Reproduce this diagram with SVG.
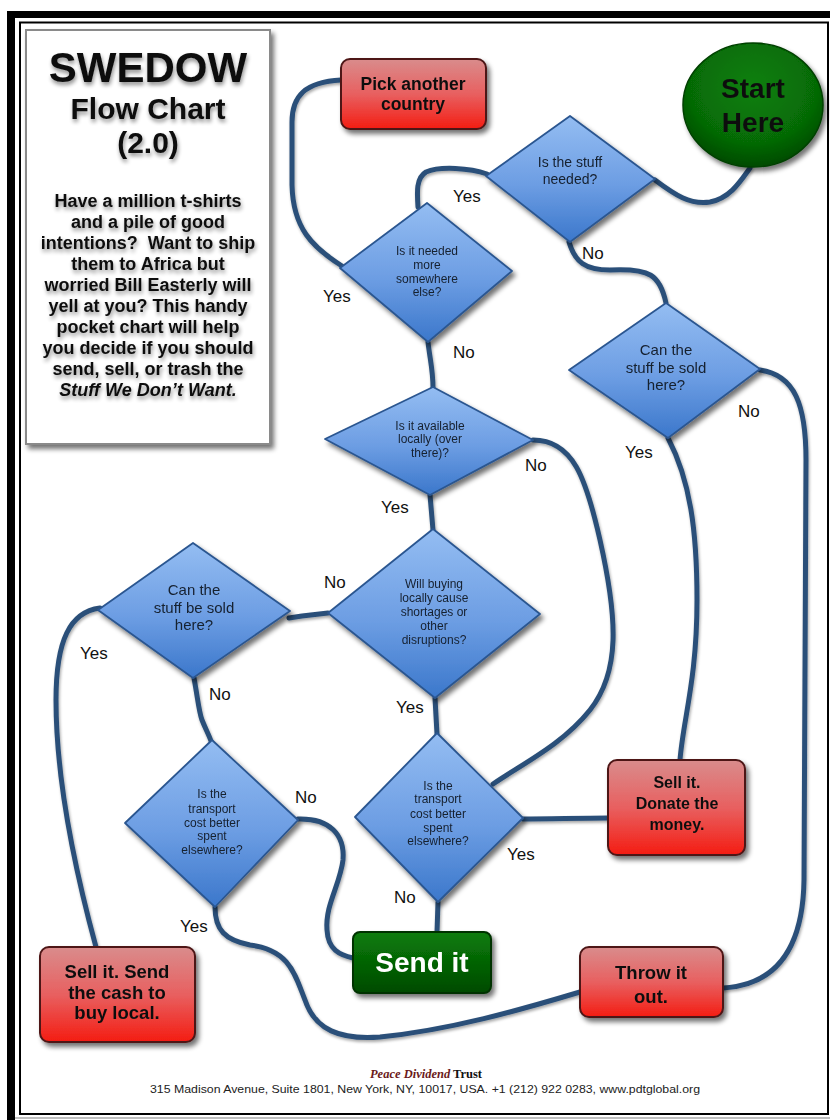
<svg xmlns="http://www.w3.org/2000/svg" width="830" height="1120" viewBox="0 0 830 1120">
<defs>
<linearGradient id="gDia" x1="0" y1="0" x2="0" y2="1">
<stop offset="0" stop-color="#94bdf2"/>
<stop offset="0.55" stop-color="#6c9de3"/>
<stop offset="1" stop-color="#3b77cb"/>
</linearGradient>
<linearGradient id="gRed" x1="0" y1="0" x2="0" y2="1">
<stop offset="0" stop-color="#d98c8c"/>
<stop offset="0.5" stop-color="#e86060"/>
<stop offset="1" stop-color="#f41c12"/>
</linearGradient>
<linearGradient id="gGreen" x1="0" y1="0" x2="0" y2="1">
<stop offset="0" stop-color="#0a7d0a"/>
<stop offset="1" stop-color="#004a00"/>
</linearGradient>
<radialGradient id="gStart" cx="0.5" cy="0.35" r="0.65">
<stop offset="0" stop-color="#0b800b"/>
<stop offset="0.7" stop-color="#066a06"/>
<stop offset="1" stop-color="#024a02"/>
</radialGradient>
<filter id="shadow" x="-20%" y="-20%" width="150%" height="150%">
<feGaussianBlur in="SourceAlpha" stdDeviation="2.5"/>
<feOffset dx="3" dy="4" result="b"/>
<feComponentTransfer><feFuncA type="linear" slope="0.55"/></feComponentTransfer>
<feMerge><feMergeNode/><feMergeNode in="SourceGraphic"/></feMerge>
</filter>
<filter id="lshadow" x="-10%" y="-10%" width="130%" height="130%">
<feGaussianBlur in="SourceAlpha" stdDeviation="1.5"/>
<feOffset dx="1" dy="2" result="b"/>
<feComponentTransfer><feFuncA type="linear" slope="0.35"/></feComponentTransfer>
<feMerge><feMergeNode/><feMergeNode in="SourceGraphic"/></feMerge>
</filter>
<filter id="tshadow" x="-10%" y="-30%" width="130%" height="170%">
<feGaussianBlur in="SourceAlpha" stdDeviation="2"/>
<feOffset dx="1" dy="3" result="b"/>
<feComponentTransfer><feFuncA type="linear" slope="0.45"/></feComponentTransfer>
<feMerge><feMergeNode/><feMergeNode in="SourceGraphic"/></feMerge>
</filter>
<style>
.dia{fill:url(#gDia);stroke:#2b5690;stroke-width:1.8;stroke-linejoin:round}
.red{fill:url(#gRed);stroke:#4e1616;stroke-width:2}
.grn{fill:url(#gGreen);stroke:#003300;stroke-width:2}
.con{fill:none;stroke:#2c5079;stroke-width:5;stroke-linecap:round;stroke-linejoin:round}
text{font-family:"Liberation Sans",Arial,sans-serif;text-anchor:middle}
.dt{font-size:12px;fill:#16202f}
.dtl{font-size:15px;fill:#16202f}
.bt{font-weight:bold;fill:#111}
.lbl{font-size:17px;fill:#111;text-anchor:start}
</style>
</defs>
<rect x="0" y="0" width="830" height="1120" fill="#fff"/>
<g id="frame">
<rect x="7" y="11" width="823" height="7" fill="#000"/>
<rect x="7" y="11" width="8" height="1109" fill="#000"/>
<rect x="20" y="22.5" width="808" height="1091.5" fill="none" stroke="#000" stroke-width="2"/>
<line x1="15" y1="1118" x2="830" y2="1118" stroke="#aaa" stroke-width="1.5"/>
</g>
<g id="connectors" filter="url(#lshadow)">
<path class="con" d="M655,180 C675,195 690,205 710,202 C730,198 740,182 750,168"/>
<path class="con" d="M487,174 C470,168 440,166 426,172 C416,178 417,192 418,207"/>
<path class="con" d="M342,266 C312,247 293,228 292,185 L292,122 C292,96 305,82 341,80"/>
<path class="con" d="M428,342 C430,360 433,370 433,388"/>
<path class="con" d="M533,440 C573,440 586,478 600,540 C618,620 620,672 590,710 C562,745 522,764 493,784"/>
<path class="con" d="M430,495 L433,530"/>
<path class="con" d="M289,618 L302,616 L328,613"/>
<path class="con" d="M435,698 L437,734"/>
<path class="con" d="M100,608 C70,612 56,640 56,700 C56,780 75,870 96,947"/>
<path class="con" d="M194,678 C198,700 199,712 202,720 C206,730 209,735 211,741"/>
<path class="con" d="M298,819 C330,818 345,835 343,860 C340,885 325,905 327,930 C328,950 340,955 353,958"/>
<path class="con" d="M215,907 C215,930 225,940 250,945 C290,950 295,975 305,1000 C315,1030 340,1040 380,1037 C450,1030 520,1010 580,992"/>
<path class="con" d="M438,902 L437,932"/>
<path class="con" d="M523,819 C550,819 580,818 608,818"/>
<path class="con" d="M668,438 C690,480 697,530 697,600 C697,680 683,720 680,760"/>
<path class="con" d="M760,370 C795,375 806,405 806,460 L804,880 C803,950 775,985 723,988"/>
<path class="con" d="M569,242 C575,262 585,270 610,270 C650,268 660,275 666,303"/>
</g>
<g id="title">
<rect x="26" y="30" width="244" height="414" fill="#fff" stroke="#8a8a8a" stroke-width="2" filter="url(#shadow)"/>
<g filter="url(#tshadow)">
<text x="148" y="82" class="bt" style="font-size:42px">SWEDOW</text>
<text x="148" y="119" class="bt" style="font-size:30px">Flow Chart</text>
<text x="148" y="153" class="bt" style="font-size:30px">(2.0)</text>
<g class="bt" style="font-size:18px">
<text x="148" y="207">Have a million t-shirts</text>
<text x="148" y="228">and a pile of good</text>
<text x="148" y="249">intentions?&#160; Want to ship</text>
<text x="148" y="270">them to Africa but</text>
<text x="148" y="291">worried Bill Easterly will</text>
<text x="148" y="312">yell at you? This handy</text>
<text x="148" y="333">pocket chart will help</text>
<text x="148" y="354">you decide if you should</text>
<text x="148" y="375">send, sell, or trash the</text>
<text x="148" y="396" font-style="italic">Stuff We Don’t Want.</text>
</g>
</g>
</g>
<g id="n-start" filter="url(#shadow)">
<ellipse cx="753" cy="105" rx="70" ry="62" fill="url(#gStart)" stroke="#034003" stroke-width="1.5"/>
<text x="753" y="98" class="bt" style="font-size:28px">Start</text>
<text x="753" y="132" class="bt" style="font-size:28px">Here</text>
</g>
<g id="n-pick" filter="url(#shadow)">
<rect x="341" y="59" width="145" height="70" rx="9" class="red"/>
<text x="413" y="90" class="bt" style="font-size:17.5px">Pick another</text>
<text x="413" y="110" class="bt" style="font-size:17.5px">country</text>
</g>
<g id="q-needed" filter="url(#shadow)">
<polygon class="dia" points="570,116 655,179 570,242 486,176"/>
<text x="570" y="167" class="dt" style="font-size:14px">Is the stuff</text>
<text x="570" y="184" class="dt" style="font-size:14px">needed?</text>
</g>
<g id="q-elsewhere" filter="url(#shadow)">
<polygon class="dia" points="427,203 512,271 428,342 340,268"/>
<text x="427" y="255" class="dt">Is it needed</text>
<text x="427" y="269" class="dt">more</text>
<text x="427" y="283" class="dt">somewhere</text>
<text x="427" y="296" class="dt">else?</text>
</g>
<g id="q-sold-right" filter="url(#shadow)">
<polygon class="dia" points="666,303 760,369 668,438 569,370"/>
<text x="666" y="355" class="dtl">Can the</text>
<text x="666" y="373" class="dtl">stuff be sold</text>
<text x="666" y="390" class="dtl">here?</text>
</g>
<g id="q-local" filter="url(#shadow)">
<polygon class="dia" points="433,387 533,440 430,495 325,439"/>
<text x="430" y="430" class="dt">Is it available</text>
<text x="430" y="443" class="dt">locally (over</text>
<text x="430" y="457" class="dt">there)?</text>
</g>
<g id="q-disrupt" filter="url(#shadow)">
<polygon class="dia" points="433,529 540,614 435,698 328,613"/>
<text x="434" y="588" class="dt">Will buying</text>
<text x="434" y="602" class="dt">locally cause</text>
<text x="434" y="616" class="dt">shortages or</text>
<text x="434" y="630" class="dt">other</text>
<text x="434" y="644" class="dt">disruptions?</text>
</g>
<g id="q-sold-left" filter="url(#shadow)">
<polygon class="dia" points="193,543 290,611 193,678 98,610"/>
<text x="194" y="595" class="dtl">Can the</text>
<text x="194" y="613" class="dtl">stuff be sold</text>
<text x="194" y="630" class="dtl">here?</text>
</g>
<g id="q-transport-left" filter="url(#shadow)">
<polygon class="dia" points="212,740 298,820 215,907 125,823"/>
<text x="212" y="798" class="dt">Is the</text>
<text x="212" y="813" class="dt">transport</text>
<text x="212" y="827" class="dt">cost better</text>
<text x="212" y="840" class="dt">spent</text>
<text x="212" y="854" class="dt">elsewhere?</text>
</g>
<g id="q-transport-mid" filter="url(#shadow)">
<polygon class="dia" points="437,733 523,818 438,902 355,817"/>
<text x="438" y="790" class="dt">Is the</text>
<text x="438" y="803" class="dt">transport</text>
<text x="438" y="818" class="dt">cost better</text>
<text x="438" y="832" class="dt">spent</text>
<text x="438" y="845" class="dt">elsewhere?</text>
</g>
<g id="n-donate" filter="url(#shadow)">
<rect x="608" y="760" width="137" height="95" rx="9" class="red"/>
<text x="677" y="788" class="bt" style="font-size:16px">Sell it.</text>
<text x="677" y="809" class="bt" style="font-size:16px">Donate the</text>
<text x="677" y="830" class="bt" style="font-size:16px">money.</text>
</g>
<g id="n-send" filter="url(#shadow)">
<rect x="353" y="932" width="138" height="61" rx="7" class="grn"/>
<text x="422" y="972" style="font-size:28px;font-weight:bold;fill:#fff">Send it</text>
</g>
<g id="n-throw" filter="url(#shadow)">
<rect x="580" y="947" width="143" height="70" rx="9" class="red"/>
<text x="651" y="979" class="bt" style="font-size:18.5px">Throw it</text>
<text x="651" y="1003" class="bt" style="font-size:18.5px">out.</text>
</g>
<g id="n-local" filter="url(#shadow)">
<rect x="40" y="947" width="155" height="95" rx="9" class="red"/>
<text x="117" y="978" class="bt" style="font-size:18.5px">Sell it. Send</text>
<text x="117" y="999" class="bt" style="font-size:18.5px">the cash to</text>
<text x="117" y="1019" class="bt" style="font-size:18.5px">buy local.</text>
</g>
<g id="labels">
<text x="453" y="202" class="lbl">Yes</text>
<text x="582" y="259" class="lbl">No</text>
<text x="323" y="302" class="lbl">Yes</text>
<text x="453" y="358" class="lbl">No</text>
<text x="738" y="417" class="lbl">No</text>
<text x="625" y="458" class="lbl">Yes</text>
<text x="525" y="471" class="lbl">No</text>
<text x="381" y="513" class="lbl">Yes</text>
<text x="324" y="588" class="lbl">No</text>
<text x="80" y="659" class="lbl">Yes</text>
<text x="209" y="700" class="lbl">No</text>
<text x="396" y="713" class="lbl">Yes</text>
<text x="295" y="803" class="lbl">No</text>
<text x="507" y="860" class="lbl">Yes</text>
<text x="394" y="903" class="lbl">No</text>
<text x="180" y="932" class="lbl">Yes</text>
</g>
<g id="footer">
<text x="426" y="1078" style="font-family:'Liberation Serif','Times New Roman',serif;font-size:12.5px;font-weight:bold"><tspan font-style="italic" fill="#6b1a1a">Peace Dividend</tspan><tspan fill="#111"> Trust</tspan></text>
<text x="425" y="1093" style="font-size:11.5px;fill:#222" textLength="550" lengthAdjust="spacingAndGlyphs">315 Madison Avenue, Suite 1801, New York, NY, 10017, USA. +1 (212) 922 0283, www.pdtglobal.org</text>
</g>
</svg>
